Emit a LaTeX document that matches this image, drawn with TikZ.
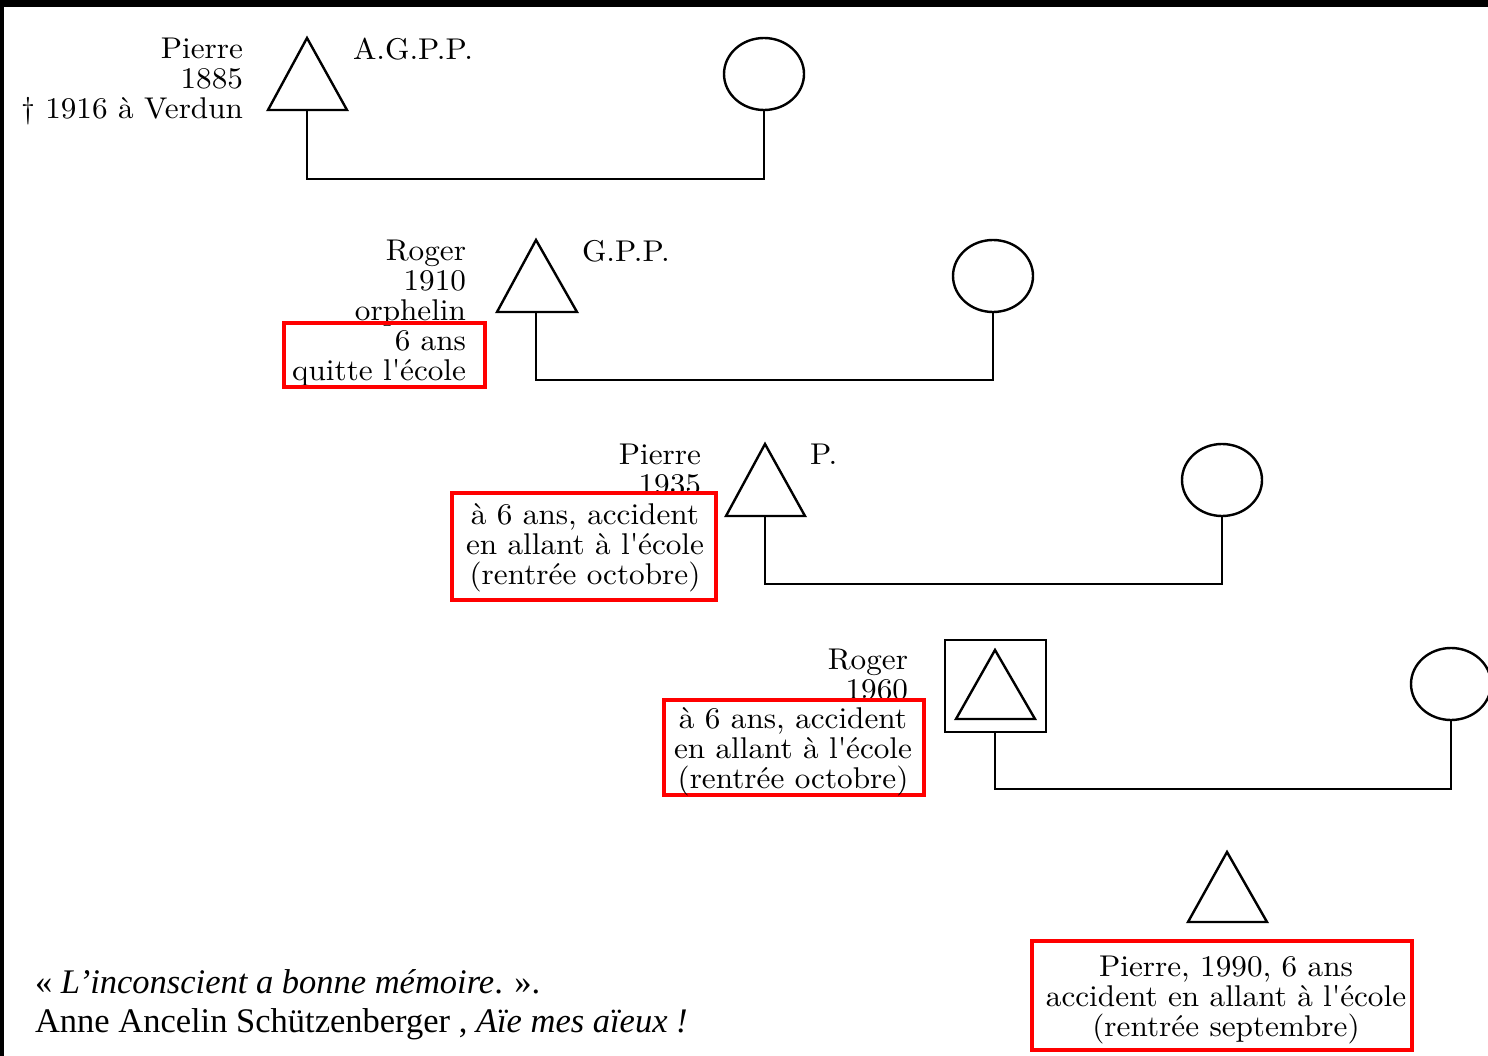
\documentclass[tikz,border=0pt]{standalone}
\usepackage{fontspec}
\newfontfamily\footfont{Liberation Serif}
\newfontfamily\diagfont{lmroman10-regular}[Extension=.otf, FakeStretch=1.04]
\usetikzlibrary{shapes.geometric}
\begin{document}
\begin{tikzpicture}[x=1pt,y=-1pt,
  sym/.style={draw=black, line width=2.4pt, line join=miter},
  link/.style={draw=black, line width=2.4pt},
  fem/.style={ellipse, draw=black, line width=2.4pt, minimum width=80pt, minimum height=72pt, inner sep=0pt, outer sep=0pt},
  lbl/.style={inner sep=0pt, outer sep=0pt, align=right, font=\diagfont\fontsize{30}{30}\selectfont},
  lbll/.style={inner sep=0pt, outer sep=0pt, align=left, font=\diagfont\fontsize{30}{30}\selectfont},
  redframe/.style={draw=red, line width=4pt, inner sep=0pt, outer sep=0pt},
  boxtext/.style={inner sep=0pt, outer sep=0pt, align=center, font=\diagfont\fontsize{30}{30}\selectfont},
  foot/.style={inner sep=0pt, outer sep=0pt, align=left, font=\footfont\fontsize{34.5}{39}\selectfont}
]
\useasboundingbox (0,0) rectangle (1488,1056);
% black border remnants
\fill[black] (0,0) rectangle (1488,7);
\fill[black] (0,0) rectangle (4,1056);

% ---------- generation 1 ----------
\draw[sym] (307,38) -- (347,110) -- (268,110) -- cycle;
\coordinate (t1) at (307,110);
\node[fem] (c1) at (764,74) {};
\coordinate (j1) at (307,179);
\draw[link] (t1) -- (j1) -| (c1.south);
\node[lbl, anchor=north east] (n1) at (243,38) {Pierre\\1885\\† 1916 à Verdun};
\node[lbll, anchor=north west] (a1) at (353,38) {A.G.P.P.};

% ---------- generation 2 ----------
\draw[sym] (536,240) -- (577,312) -- (497,312) -- cycle;
\coordinate (t2) at (536,312);
\node[fem] (c2) at (993,276) {};
\coordinate (j2) at (536,380);
\draw[link] (t2) -- (j2) -| (c2.south);
\node[lbl, anchor=north east] (n2) at (466,240) {Roger\\1910\\orphelin\\6 ans\\quitte l\textquotesingle école};
\node[lbll, anchor=north west] (a2) at (582,240) {G.P.P.};
\node[redframe, minimum width=201pt, minimum height=64pt] (r2) at (384.5,355) {};

% ---------- generation 3 ----------
\draw[sym] (765,444) -- (805,516) -- (726,516) -- cycle;
\coordinate (t3) at (765,516);
\node[fem] (c3) at (1222,480) {};
\coordinate (j3) at (765,584);
\draw[link] (t3) -- (j3) -| (c3.south);
\node[lbl, anchor=north east] (n3) at (701,444) {Pierre\\1935};
\node[lbll, anchor=north west] (a3) at (810,444) {P.};
\node[redframe, minimum width=264pt, minimum height=107pt] (r3) at (584,546.5) {};
\node[boxtext] (x3) at (585,548)
  {à 6 ans, accident\\en allant à l\textquotesingle école\\(rentrée octobre)};

% ---------- generation 4 ----------
\node[draw=black, line width=2pt, minimum width=101pt, minimum height=92pt, inner sep=0pt, outer sep=0pt] (sq4) at (995.5,686) {};
\draw[sym] (995,650) -- (1035,719) -- (956,719) -- cycle;
\node[fem] (c4) at (1451,684) {};
\coordinate (j4) at (995,789);
\draw[link] (sq4.south -| j4) -- (j4) -| (c4.south);
\node[lbl, anchor=north east] (n4) at (908,649) {Roger\\1960};
\node[redframe, minimum width=260pt, minimum height=95pt] (r4) at (794,747.5) {};
\node[boxtext] (x4) at (793,752)
  {à 6 ans, accident\\en allant à l\textquotesingle école\\(rentrée octobre)};

% ---------- generation 5 ----------
\draw[sym] (1227,852) -- (1267,922) -- (1188,922) -- cycle;
\node[redframe, minimum width=380pt, minimum height=109pt] (r5) at (1222,995.5) {};
\node[boxtext] (x5) at (1226,1000)
  {Pierre, 1990, 6 ans\\accident en allant à l\textquotesingle école\\(rentrée septembre)};

% ---------- citation ----------
\node[foot, anchor=north west] (q) at (35,970)
  {« \textit{L’inconscient a bonne mémoire}. ».\\Anne Ancelin Schützenberger , \textit{Aïe mes aïeux !}};
\end{tikzpicture}
\end{document}
